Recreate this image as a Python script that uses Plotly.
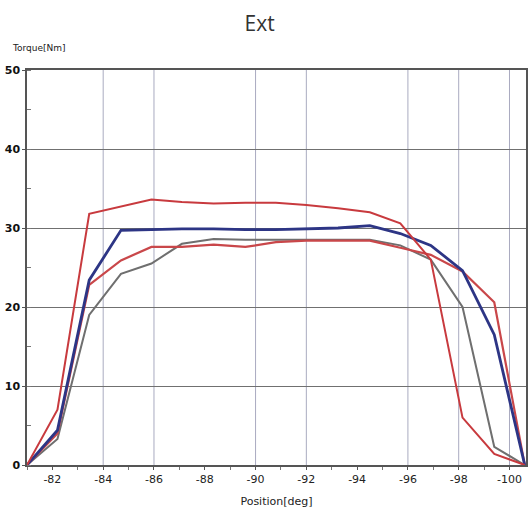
import plotly.graph_objects as go

# Sample positions [deg]
position = [-81.0, -82.2, -83.45, -84.7, -85.9, -87.1, -88.35, -89.6, -90.8,
            -92.0, -93.25, -94.5, -95.7, -96.9, -98.15, -99.4, -100.6]

# Torque series [Nm]
red_upper = [0.0, 7.0, 31.8, 32.7, 33.6, 33.3, 33.1, 33.2, 33.2,
             32.9, 32.5, 32.0, 30.6, 26.0, 6.0, 1.4, 0.0]
blue = [0.0, 4.4, 23.4, 29.7, 29.8, 29.9, 29.9, 29.8, 29.8,
        29.9, 30.0, 30.3, 29.3, 27.8, 24.6, 16.5, 0.0]
red_lower = [0.0, 4.0, 22.8, 25.9, 27.6, 27.6, 27.9, 27.6, 28.2,
             28.4, 28.4, 28.4, 27.5, 26.6, 24.5, 20.6, 0.0]
gray = [0.0, 3.3, 19.0, 24.2, 25.5, 28.0, 28.6, 28.5, 28.5,
        28.5, 28.5, 28.5, 27.8, 26.0, 20.0, 2.3, 0.0]

x_tick_vals = [-82, -84, -86, -88, -90, -92, -94, -96, -98, -100]
x_tick_text = ["-82", "-84", "-86", "-88", "-90", "-92", "-94", "-96", "-98", "-100"]
y_tick_vals = [0, 10, 20, 30, 40, 50]

grid_x = [-84, -86, -90, -92, -96, -98, -100]

fig = go.Figure()
fig.add_trace(go.Scatter(x=position, y=gray, mode="lines",
                         line=dict(color="#6f6f6f", width=2)))
fig.add_trace(go.Scatter(x=position, y=red_lower, mode="lines",
                         line=dict(color="#c9474a", width=2.2)))
fig.add_trace(go.Scatter(x=position, y=blue, mode="lines",
                         line=dict(color="#2d3585", width=2.8)))
fig.add_trace(go.Scatter(x=position, y=red_upper, mode="lines",
                         line=dict(color="#c83a3e", width=2)))

for gx in grid_x:
    fig.add_shape(type="line", x0=gx, x1=gx, y0=0, y1=50, xref="x", yref="y",
                  line=dict(color="#a9abc0", width=1), layer="below")

fig.update_layout(
    width=530, height=513,
    margin=dict(l=27, r=2, t=70, b=48),
    paper_bgcolor="white", plot_bgcolor="white",
    showlegend=False,
    title=dict(text="Ext", x=0.49, xanchor="center", y=0.953, yanchor="middle",
               font=dict(family="Open Sans", size=21, color="#333333")),
    font=dict(family="DejaVu Sans", color="#222222"),
)
fig.update_xaxes(
    range=[-81.0, -100.65], tickmode="array", tickvals=x_tick_vals, ticktext=x_tick_text,
    showgrid=False, zeroline=False, showline=True, linecolor="#555555", linewidth=1.5,
    mirror=True, ticks="outside", ticklen=3, tickcolor="#555555",
    minor=dict(dtick=1, ticks="outside", ticklen=3, tickcolor="#777777"),
    tickfont=dict(family="DejaVu Sans", size=11, color="#222222"),
    title=dict(text="Position[deg]", font=dict(family="DejaVu Sans", size=11, color="#222222"),
               standoff=12),
)
fig.update_yaxes(
    range=[0, 50], tickmode="array", tickvals=y_tick_vals,
    showgrid=True, gridcolor="#707070", gridwidth=1.2, zeroline=False,
    showline=True, linecolor="#555555", linewidth=1.5, mirror=True,
    ticks="outside", ticklen=3, tickcolor="#555555",
    minor=dict(dtick=5, ticks="inside", ticklen=4, tickcolor="#777777"),
    tickfont=dict(family="DejaVu Sans", size=11, color="#111111", weight="bold"),
)
fig.add_annotation(text="Torque[Nm]", xref="paper", yref="paper", x=-0.035, y=1.055,
                   xanchor="left", yanchor="middle", showarrow=False,
                   font=dict(family="DejaVu Sans", size=9, color="#222222"))

fig.write_html("out.html")
